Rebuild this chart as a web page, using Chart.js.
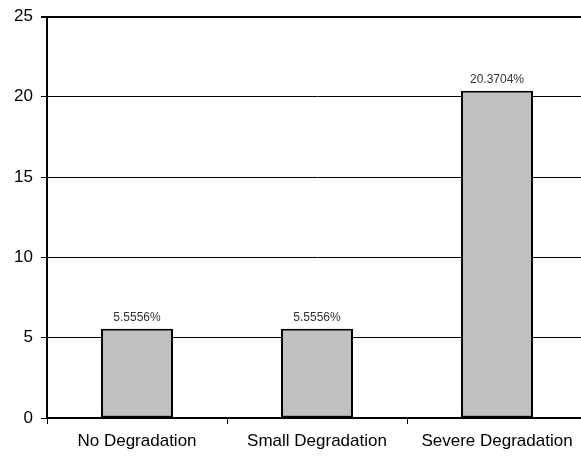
<!DOCTYPE html>
<html>
<head>
<meta charset="utf-8">
<script src="https://cdn.jsdelivr.net/npm/chart.js@4.4.0/dist/chart.umd.min.js"></script>
<style>
  html, body { margin: 0; padding: 0; background: #fff; overflow: hidden; }
  #wrap { width: 590px; height: 457px; }
</style>
</head>
<body>
<div id="wrap"><canvas id="chart" width="590" height="457"></canvas></div>
<script>
// data
const categories = ['No Degradation', 'Small Degradation', 'Severe Degradation'];
const percentValues = [5.5556, 5.5556, 20.3704];
const yTicks = [0, 5, 10, 15, 20, 25];

// labels above bars
const barLabels = {
    id: 'barLabels',
    afterDatasetsDraw(chart) {
        const ctx = chart.ctx;
        const meta = chart.getDatasetMeta(0);
        ctx.save();
        ctx.font = '12px "Liberation Sans", Arial, sans-serif';
        ctx.fillStyle = '#333';
        ctx.textAlign = 'center';
        ctx.textBaseline = 'bottom';
        meta.data.forEach((bar, i) => {
            ctx.fillText(percentValues[i].toFixed(4) + '%', bar.x, bar.y - 5);
        });
        ctx.restore();
    }
};

const ctx = document.getElementById('chart').getContext('2d');
const chart = new Chart(ctx, {
    type: 'bar',
    data: {
        labels: categories,
        datasets: [{
            data: percentValues,
            backgroundColor: '#c0c0c0',
            borderColor: '#000',
            borderWidth: 2,
            borderSkipped: false,
            categoryPercentage: 0.4,
            barPercentage: 1
        }]
    },
    options: {
        responsive: false,
        animation: false,
        layout: { padding: { top: 12, right: 3, left: 0, bottom: 0 } },
        plugins: {
            legend: { display: false },
            tooltip: { enabled: false }
        },
        scales: {
            x: {
                offset: true,
                grid: {
                    drawOnChartArea: false,
                    drawTicks: true,
                    tickLength: 6,
                    color: '#000',
                    offset: true
                },
                border: { display: true, color: '#000', width: 2 },
                ticks: {
                    color: '#000',
                    padding: 7,
                    maxRotation: 0,
                    font: { family: '"Liberation Sans", Arial, sans-serif', size: 17 }
                },
                afterFit(scale) { scale.height = 39; }
            },
            y: {
                min: 0,
                max: 25,
                afterBuildTicks(scale) {
                    scale.ticks = yTicks.map(v => ({ value: v }));
                },
                grid: {
                    color: '#000',
                    lineWidth: c => (c.tick && c.tick.value === 25 ? 2 : 1),
                    tickLength: 6
                },
                border: { display: true, color: '#000', width: 2 },
                ticks: {
                    color: '#000',
                    padding: 8,
                    font: { family: '"Liberation Sans", Arial, sans-serif', size: 17, lineHeight: 1 }
                },
                afterFit(scale) { scale.width = 47; }
            }
        }
    },
    plugins: [barLabels]
});
</script>
</body>
</html>
